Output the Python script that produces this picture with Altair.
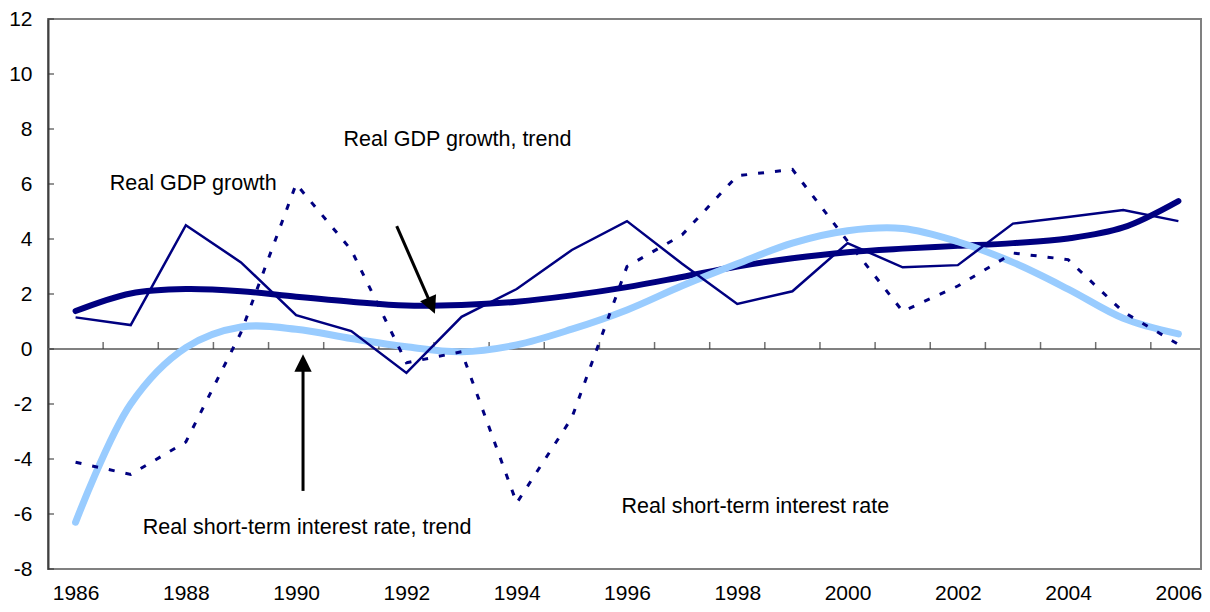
import altair as alt
import pandas as pd

years = list(range(1986, 2007))
gdp = [1.15, 0.87, 4.5, 3.15, 1.23, 0.65, -0.87, 1.17, 2.18, 3.6, 4.65, 3.1, 1.64, 2.1,
       3.85, 2.97, 3.05, 4.56, 4.8, 5.05, 4.65]
gdp_trend = [1.38, 2.02, 2.18, 2.1, 1.9, 1.72, 1.58, 1.6, 1.72, 1.95, 2.25, 2.62, 3.0, 3.3,
             3.52, 3.65, 3.75, 3.85, 4.02, 4.42, 5.38]
rate = [-4.12, -4.56, -3.38, 0.6, 6.0, 3.6, -0.5, -0.1, -5.6, -2.5, 3.0, 4.15, 6.3, 6.53,
        3.92, 1.37, 2.29, 3.49, 3.25, 1.35, 0.17]
rate_trend = [-6.3, -2.0, 0.05, 0.8, 0.72, 0.38, 0.08, -0.1, 0.15, 0.72, 1.42, 2.3, 3.1, 3.85,
              4.3, 4.38, 3.9, 3.15, 2.18, 1.12, 0.55]

x_labels = list(range(1986, 2007, 2))
y_labels = list(range(-8, 13, 2))

ann_text = ["Real GDP growth", "Real GDP growth, trend",
            "Real short-term interest rate, trend", "Real short-term interest rate"]
ann_x = [1986.62, 1990.86, 1987.22, 1995.90]
ann_y = [5.77, 7.38, -6.74, -5.95]

# arrows: tail (x, y) -> head centre (x, y)
arrow_gdp = {"x": 1991.824, "y": 4.47, "x2": 1992.455, "y2": 1.575}
arrow_rate = {"x": 1990.125, "y": -5.16, "x2": 1990.125, "y2": -0.51}

FONT = "Liberation Sans"
NAVY = "#000080"
LIGHT = "#99CCFF"

xs = alt.Scale(domain=[1985.5, 2006.41], nice=False, zero=False)
ys = alt.Scale(domain=[-8, 12], nice=False, zero=False)
xaxis = alt.Axis(title=None, values=x_labels, format="d", domain=False, ticks=False,
                 tickSize=0, grid=False, labelFont=FONT, labelFontSize=21,
                 labelColor="black", labelPadding=30, labelBaseline="alphabetic")
yaxis = alt.Axis(title=None, values=y_labels, labelExpr="'' + datum.value",
                 domainColor="#404040", domainWidth=2, ticks=False, tickSize=0, grid=False,
                 labelFont=FONT, labelFontSize=21, labelColor="black", labelPadding=16)


def X(f):
    return alt.X(f, type="quantitative", scale=xs, axis=xaxis)


def Y(f):
    return alt.Y(f, type="quantitative", scale=ys, axis=yaxis)


df = pd.DataFrame({"year": years, "gdp": gdp, "gdp_trend": gdp_trend,
                   "rate": rate, "rate_trend": rate_trend})

zero_df = pd.DataFrame({"x": [1985.5], "x2": [2006.41], "y": [0]})
zero_line = alt.Chart(zero_df).mark_rule(color="#808080", strokeWidth=2).encode(
    x=X("x"), x2="x2", y=Y("y"))

cat_ticks = pd.DataFrame({"x": [y + 0.5 for y in years[:-1]], "y": [0] * (len(years) - 1)})
zero_ticks = alt.Chart(cat_ticks).mark_tick(
    orient="vertical", size=7, thickness=1.5, yOffset=-3.5, color="#333333").encode(
    x=X("x"), y=Y("y"))

ytick_df = pd.DataFrame({"x": [1985.5] * len(y_labels), "y": y_labels})
y_ticks = alt.Chart(ytick_df).mark_tick(
    orient="horizontal", size=6, thickness=1.5, xOffset=3, color="#333333").encode(
    x=X("x"), y=Y("y"))

base = alt.Chart(df)
l_gdp_trend = base.mark_line(color=NAVY, strokeWidth=6, strokeCap="round",
                             interpolate="catmull-rom").encode(x=X("year"), y=Y("gdp_trend"))
l_rate_trend = base.mark_line(color=LIGHT, strokeWidth=7, strokeCap="round",
                              interpolate="catmull-rom").encode(x=X("year"), y=Y("rate_trend"))
l_rate = base.mark_line(color=NAVY, strokeWidth=3, strokeDash=[6, 11]).encode(
    x=X("year"), y=Y("rate"))
l_gdp = base.mark_line(color=NAVY, strokeWidth=2.5).encode(x=X("year"), y=Y("gdp"))

arrows_df = pd.DataFrame([arrow_gdp, arrow_rate])
shafts = alt.Chart(arrows_df).mark_rule(color="black", strokeWidth=3).encode(
    x=X("x"), y=Y("y"), x2="x2", y2="y2")
head_shape = "M0,-1L1,1L-1,1Z"
head1 = alt.Chart(pd.DataFrame([arrow_gdp])).mark_point(
    shape=head_shape, filled=True, size=300, color="black", opacity=1,
    angle=156.8).encode(x=X("x2"), y=Y("y2"))
head2 = alt.Chart(pd.DataFrame([arrow_rate])).mark_point(
    shape=head_shape, filled=True, size=300, color="black", opacity=1,
    angle=0).encode(x=X("x2"), y=Y("y2"))

ann_df = pd.DataFrame({"text": ann_text, "x": ann_x, "y": ann_y})
labels = alt.Chart(ann_df).mark_text(
    align="left", baseline="alphabetic", font=FONT, fontSize=21.5, color="black").encode(
    x=X("x"), y=Y("y"), text="text:N")

chart = alt.layer(
    zero_line, zero_ticks, y_ticks, l_gdp_trend, l_rate_trend, l_rate, l_gdp,
    shafts, head1, head2, labels
).properties(
    width=1153, height=550,
    padding={"left": 40, "top": 11, "right": 1, "bottom": 35},
    autosize=alt.AutoSizeParams(type="none"),
    background="white",
).configure_view(stroke="#808080", strokeWidth=2)

chart.save("out.html", embed_options={"renderer": "svg", "actions": False})
